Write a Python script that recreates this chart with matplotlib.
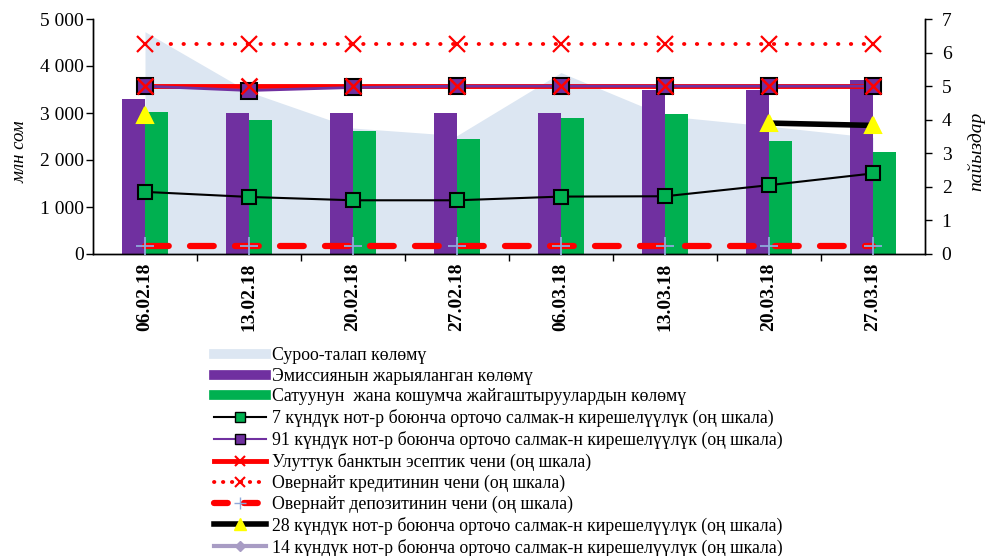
import numpy as np
import matplotlib
matplotlib.use("Agg")
import matplotlib.pyplot as plt
from matplotlib.lines import Line2D
from matplotlib.ticker import FuncFormatter, FixedLocator

plt.rcParams['font.family'] = ['Liberation Serif', 'DejaVu Serif']

dates = ["06.02.18", "13.02.18", "20.02.18", "27.02.18",
         "06.03.18", "13.03.18", "20.03.18", "27.03.18"]
demand = [4730, 3450, 2680, 2520, 3860, 2940, 2720, 2480]
emission = [3300, 3000, 3000, 3000, 3000, 3500, 3500, 3700]
sold = [3015, 2850, 2610, 2455, 2890, 2980, 2405, 2180]
yield7 = [1.85, 1.70, 1.60, 1.60, 1.71, 1.72, 2.05, 2.40]
yield91 = [5.00, 4.87, 4.96, 5.00, 5.00, 5.00, 5.00, 5.00]
policy = [5.00] * 8
on_credit = [6.25] * 8
on_deposit = [0.25] * 8
yield28 = [4.15, np.nan, np.nan, np.nan, np.nan, np.nan, 3.90, 3.83]
yield14 = [np.nan] * 8

labels = ["Суроо-талап көлөмү",
          "Эмиссиянын жарыяланган көлөмү",
          "Сатуунун  жана кошумча жайгаштыруулардын көлөмү",
          "7 күндүк нот-р боюнча орточо салмак-н кирешелүүлүк (оң шкала)",
          "91 күндүк нот-р боюнча орточо салмак-н кирешелүүлүк (оң шкала)",
          "Улуттук банктын эсептик чени (оң шкала)",
          "Овернайт кредитинин чени (оң шкала)",
          "Овернайт депозитинин чени (оң шкала)",
          "28 күндүк нот-р боюнча орточо салмак-н кирешелүүлүк (оң шкала)",
          "14 күндүк нот-р боюнча орточо салмак-н кирешелүүлүк (оң шкала)"]

c_area = "#DCE6F2"
c_purple = "#7030A0"
c_green = "#00B050"
c_red = "#FF0000"
c_plus = "#8EA9DB"
c_14 = "#A89CC4"

fig = plt.figure(figsize=(9.85, 5.56), dpi=100)
ax = fig.add_axes([93/985, 1-254/556, (925-93)/985, (254-19)/556])
ax2 = ax.twinx()

x = np.arange(len(dates))
w = 0.22
ax.fill_between(x, 0, demand, color=c_area, lw=0, zorder=1)
ax.bar(x - w/2, emission, width=w, color=c_purple, zorder=2)
ax.bar(x + w/2, sold, width=w, color=c_green, zorder=2)

ax.set_xlim(-0.5, len(dates) - 0.5)
ax.set_ylim(0, 5000)
ax.set_yticks(np.arange(0, 5001, 1000))
ax.yaxis.set_major_formatter(FuncFormatter(lambda v, p: f"{int(v):,}".replace(",", " ")))
ax.set_xticks(x)
ax.set_xticklabels(dates, rotation=90, fontweight='bold', fontsize=14)
ax.xaxis.set_minor_locator(FixedLocator(np.arange(0.5, len(dates) - 1, 1.0)))
ax.tick_params(axis='x', which='major', length=0, pad=6)
ax.tick_params(axis='x', which='minor', length=5, width=1)
ax.tick_params(axis='y', labelsize=14, length=5, width=1, pad=1.5)
ax.spines['top'].set_visible(False)
ax2.spines['top'].set_visible(False)
for s in ['left', 'bottom', 'right']:
    ax.spines[s].set_linewidth(1)
    ax2.spines[s].set_linewidth(1)

ax2.set_ylim(0, 7)
ax2.set_yticks(np.arange(0, 8, 1))
ax2.tick_params(axis='y', labelsize=14, length=5, width=1, pad=7)

# lines on right axis
ax2.plot(x, on_credit, color=c_red, lw=2.8, linestyle=(0, (0.1, 3.2)),
         dash_capstyle='round', marker='x', ms=11, mew=1.6, mec=c_red, zorder=3)
ax2.plot(x, on_deposit, color=c_red, lw=4.5, linestyle=(0, (3.8, 3.4)),
         dash_capstyle='round', zorder=3)
ax2.plot(x, on_deposit, linestyle='none', marker='+', ms=13, mew=1.3, mec=c_plus, zorder=4)
ax2.plot(x, yield14, color=c_14, lw=3, marker='D', ms=6, zorder=3)
ax2.plot(x, yield7, color='black', lw=1.5, marker='s', ms=10.5, mfc=c_green,
         mec='black', mew=1.5, zorder=4)
ax2.plot(x, policy, color=c_red, lw=3.5, zorder=4)
ax2.plot(x, yield91, color=c_purple, lw=2, marker='s', ms=11.5, mfc=c_purple,
         mec='black', mew=1.5, zorder=5)
ax2.plot(x, policy, linestyle='none', marker='x', ms=11, mew=1.8, mec=c_red, zorder=6)
ax2.plot(x, yield28, color='black', lw=4, marker='^', ms=11, mfc='#FFFF00',
         mec='#FFFF00', mew=1.5, zorder=6)

fig.text(20/985, 1-152/556, "млн сом", rotation=90, style='italic', fontsize=13.5,
         ha='center', va='center')
fig.text(976/985, 1-151/556, "пайыздар", rotation=90, style='italic', fontsize=14,
         ha='center', va='center')

handles = [
    Line2D([], [], color=c_area, lw=7),
    Line2D([], [], color=c_purple, lw=7),
    Line2D([], [], color=c_green, lw=7),
    Line2D([], [], color='black', lw=1.5, marker='s', ms=7, mfc=c_green, mec='black'),
    Line2D([], [], color=c_purple, lw=1.5, marker='s', ms=7, mfc=c_purple, mec='black'),
    Line2D([], [], color=c_red, lw=3.5, marker='x', ms=7, mew=1.5, mec=c_red),
    Line2D([], [], color=c_red, lw=2.8, linestyle=(0, (0.1, 2.2)), dash_capstyle='round',
           marker='x', ms=7, mew=1.5, mec=c_red),
    Line2D([], [], color=c_red, lw=4.5, linestyle=(0, (2.2, 2.6)), dash_capstyle='round',
           marker='+', ms=8, mec=c_plus),
    Line2D([], [], color='black', lw=4, marker='^', ms=9, mfc='#FFFF00', mec='#FFFF00'),
    Line2D([], [], color=c_14, lw=3, marker='D', ms=5, mfc=c_14, mec=c_14),
]
fig.legend(handles, labels, loc='upper left', bbox_to_anchor=(214/985, 1-347/556),
           frameon=False, fontsize=12.8, handlelength=2.95, handletextpad=0.3,
           labelspacing=0.21, borderaxespad=0, borderpad=0)

fig.savefig("out.png", dpi=100)
